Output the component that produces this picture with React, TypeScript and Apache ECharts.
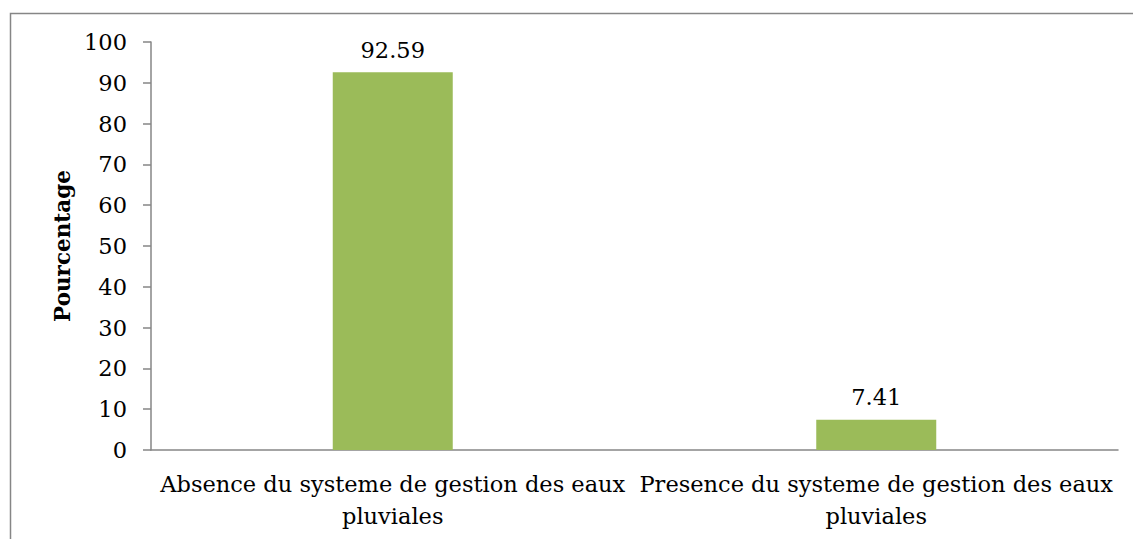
import React, { useEffect, useRef } from "react";
import * as echarts from "echarts";

const categories = [
  "Absence du systeme de gestion des eaux pluviales",
  "Presence du systeme de gestion des eaux pluviales",
];
const values = [92.59, 7.41];
const yTitle = "Pourcentage";

const FONT = "'DejaVu Serif', serif";

export default function App() {
  const ref = useRef<HTMLDivElement>(null);
  useEffect(() => {
    document.body.style.margin = "0";
    const chart = echarts.init(ref.current!, null, { renderer: "svg" });
    chart.setOption({
      animation: false,
      backgroundColor: "#ffffff",
      graphic: [
        {
          type: "rect",
          shape: { x: 10.5, y: 13.5, width: 1140, height: 560 },
          style: { fill: "none", stroke: "#868686", lineWidth: 1.5 },
          silent: true,
        },
      ],
      grid: { left: 151, right: 15, top: 42, bottom: 89 },
      xAxis: {
        type: "category",
        data: categories,
        axisLine: { lineStyle: { color: "#868686", width: 1.5 } },
        axisTick: { show: false },
        axisLabel: {
          interval: 0,
          color: "#000",
          fontFamily: FONT,
          fontSize: 22.5,
          lineHeight: 32,
          margin: 18,
          formatter: (v: string) => v.replace(" pluviales", "\npluviales"),
        },
      },
      yAxis: {
        type: "value",
        min: 0,
        max: 100,
        interval: 10,
        name: yTitle,
        nameLocation: "middle",
        nameGap: 78,
        nameRotate: 90,
        nameTextStyle: {
          color: "#000",
          fontFamily: FONT,
          fontSize: 21.5,
          fontWeight: "bold",
        },
        axisLine: { show: true, lineStyle: { color: "#868686", width: 1.5 } },
        axisTick: { show: true, length: 8, lineStyle: { color: "#868686", width: 1.5 } },
        splitLine: { show: false },
        axisLabel: {
          color: "#000",
          fontFamily: FONT,
          fontSize: 22.5,
          margin: 24,
        },
      },
      series: [
        {
          type: "bar",
          data: values,
          barWidth: 120,
          itemStyle: { color: "#9BBB59" },
          label: {
            show: true,
            position: "top",
            distance: 11,
            color: "#000",
            fontFamily: FONT,
            fontSize: 22.5,
            formatter: (p: any) => p.value.toFixed(2),
          },
        },
      ],
    });
    return () => chart.dispose();
  }, []);
  return <div ref={ref} style={{ width: 1133, height: 539 }} />;
}
